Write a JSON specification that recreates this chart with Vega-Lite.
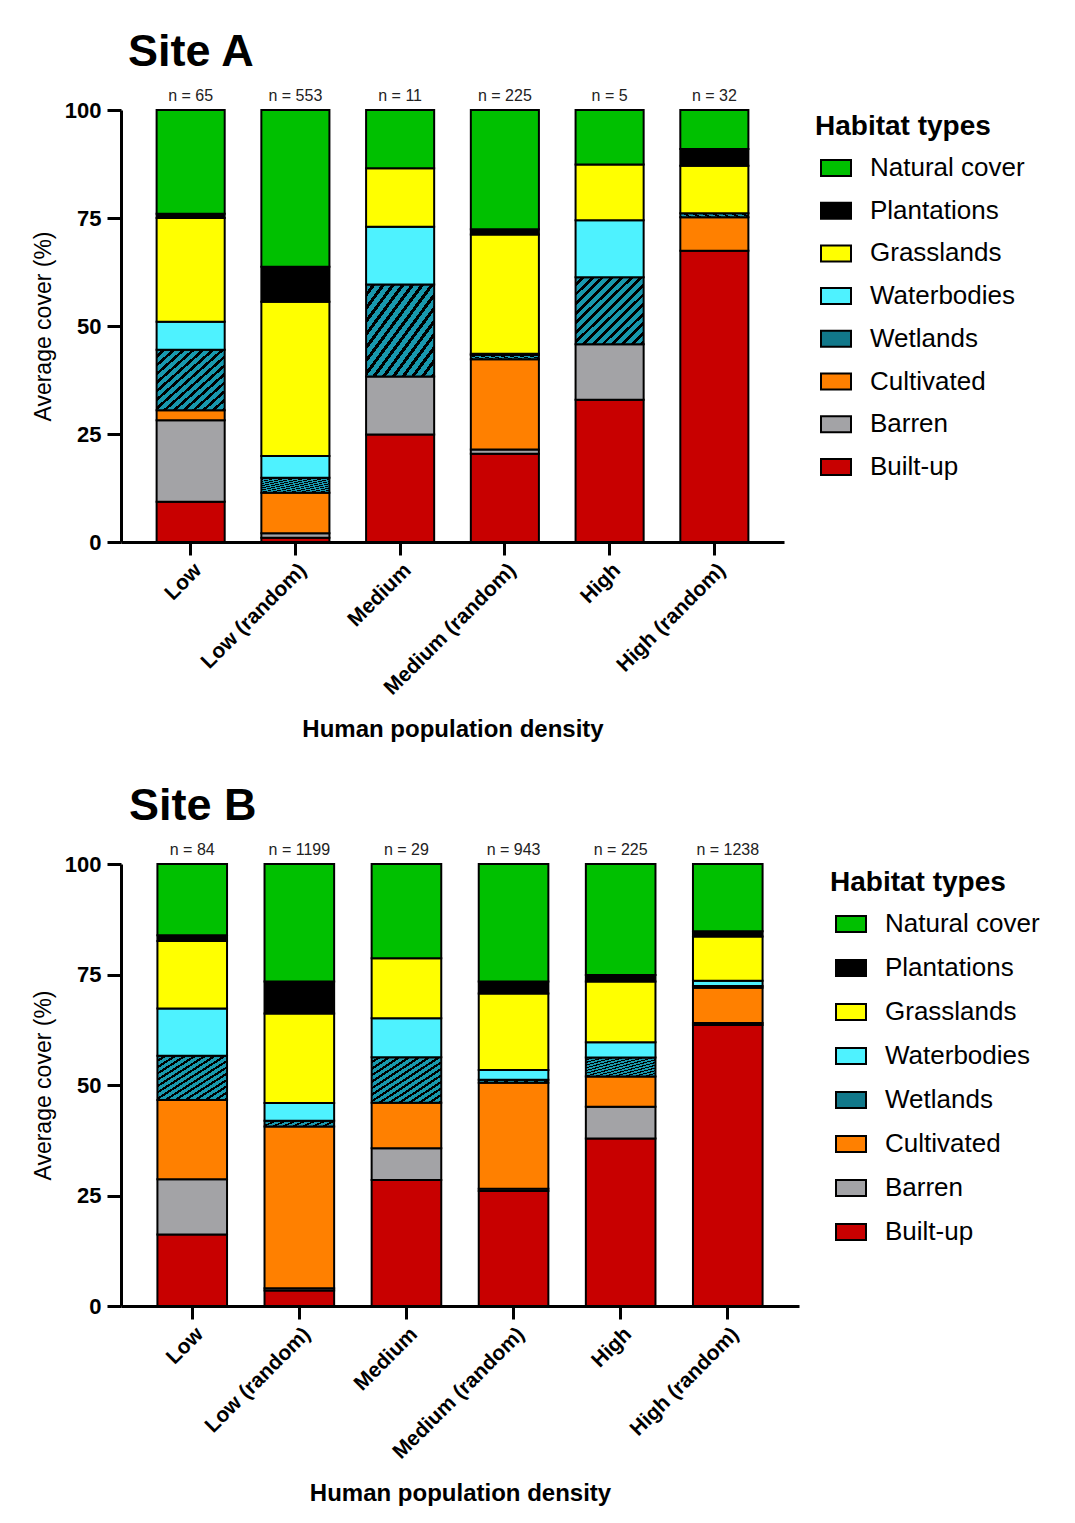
{
  "$schema": "https://vega.github.io/schema/vega-lite/v6.json",
  "background": "white",
  "padding": {"left": 32, "top": 30, "right": 0, "bottom": 0},
  "spacing": 42,
  "config": {
    "font": "Liberation Sans",
    "view": {"stroke": null},
    "axis": {"domainColor": "black", "domainWidth": 3, "tickColor": "black", "tickWidth": 3, "labelColor": "black", "titleColor": "black", "labelFontWeight": "bold", "titleFontWeight": "bold", "grid": false},
    "axisX": {"labelAngle": -45, "labelFontSize": 21, "titleFontSize": 24, "titlePadding": 19, "tickSize": 13, "labelPadding": 4},
    "axisY": {"labelFontSize": 22, "titleFontSize": 23, "titleFontWeight": "normal", "tickSize": 14, "labelPadding": 6, "titlePadding": 9},
    "legend": {"orient": "none", "padding": 0, "titleFontSize": 28, "titleFontWeight": "bold", "titleColor": "black", "labelFontSize": 26, "labelColor": "black", "symbolType": "M-1,-0.533H1V0.533H-1Z", "symbolSize": 900, "symbolStrokeColor": "black", "symbolStrokeWidth": 2, "symbolOpacity": 1, "symbolOffset": 5, "labelOffset": 18, "titlePadding": 11},
    "title": {"fontSize": 45, "fontWeight": "bold", "anchor": "start", "frame": "group", "color": "black"}
  },
  "datasets": {
    "cover": [
      {"site": "A", "density": "Low", "type": "Built-up", "k": 1, "cover": 9.3},
      {"site": "A", "density": "Low", "type": "Barren", "k": 2, "cover": 18.9},
      {"site": "A", "density": "Low", "type": "Cultivated", "k": 3, "cover": 2.3},
      {"site": "A", "density": "Low", "type": "Wetlands", "k": 4, "cover": 14.0},
      {"site": "A", "density": "Low", "type": "Waterbodies", "k": 5, "cover": 6.5},
      {"site": "A", "density": "Low", "type": "Grasslands", "k": 6, "cover": 24.0},
      {"site": "A", "density": "Low", "type": "Plantations", "k": 7, "cover": 1.0},
      {"site": "A", "density": "Low", "type": "Natural cover", "k": 8, "cover": 24.0},
      {"site": "A", "density": "Low (random)", "type": "Built-up", "k": 1, "cover": 1.0},
      {"site": "A", "density": "Low (random)", "type": "Barren", "k": 2, "cover": 1.0},
      {"site": "A", "density": "Low (random)", "type": "Cultivated", "k": 3, "cover": 9.4},
      {"site": "A", "density": "Low (random)", "type": "Wetlands", "k": 4, "cover": 3.5},
      {"site": "A", "density": "Low (random)", "type": "Waterbodies", "k": 5, "cover": 5.0},
      {"site": "A", "density": "Low (random)", "type": "Grasslands", "k": 6, "cover": 35.7},
      {"site": "A", "density": "Low (random)", "type": "Plantations", "k": 7, "cover": 8.1},
      {"site": "A", "density": "Low (random)", "type": "Natural cover", "k": 8, "cover": 36.3},
      {"site": "A", "density": "Medium", "type": "Built-up", "k": 1, "cover": 24.9},
      {"site": "A", "density": "Medium", "type": "Barren", "k": 2, "cover": 13.4},
      {"site": "A", "density": "Medium", "type": "Wetlands", "k": 4, "cover": 21.3},
      {"site": "A", "density": "Medium", "type": "Waterbodies", "k": 5, "cover": 13.4},
      {"site": "A", "density": "Medium", "type": "Grasslands", "k": 6, "cover": 13.5},
      {"site": "A", "density": "Medium", "type": "Natural cover", "k": 8, "cover": 13.5},
      {"site": "A", "density": "Medium (random)", "type": "Built-up", "k": 1, "cover": 20.4},
      {"site": "A", "density": "Medium (random)", "type": "Barren", "k": 2, "cover": 1.0},
      {"site": "A", "density": "Medium (random)", "type": "Cultivated", "k": 3, "cover": 20.9},
      {"site": "A", "density": "Medium (random)", "type": "Wetlands", "k": 4, "cover": 1.0},
      {"site": "A", "density": "Medium (random)", "type": "Waterbodies", "k": 5, "cover": 0.3},
      {"site": "A", "density": "Medium (random)", "type": "Grasslands", "k": 6, "cover": 27.6},
      {"site": "A", "density": "Medium (random)", "type": "Plantations", "k": 7, "cover": 1.2},
      {"site": "A", "density": "Medium (random)", "type": "Natural cover", "k": 8, "cover": 27.6},
      {"site": "A", "density": "High", "type": "Built-up", "k": 1, "cover": 32.9},
      {"site": "A", "density": "High", "type": "Barren", "k": 2, "cover": 12.9},
      {"site": "A", "density": "High", "type": "Wetlands", "k": 4, "cover": 15.5},
      {"site": "A", "density": "High", "type": "Waterbodies", "k": 5, "cover": 13.2},
      {"site": "A", "density": "High", "type": "Grasslands", "k": 6, "cover": 12.9},
      {"site": "A", "density": "High", "type": "Natural cover", "k": 8, "cover": 12.6},
      {"site": "A", "density": "High (random)", "type": "Built-up", "k": 1, "cover": 67.4},
      {"site": "A", "density": "High (random)", "type": "Cultivated", "k": 3, "cover": 7.8},
      {"site": "A", "density": "High (random)", "type": "Wetlands", "k": 4, "cover": 0.9},
      {"site": "A", "density": "High (random)", "type": "Grasslands", "k": 6, "cover": 11.0},
      {"site": "A", "density": "High (random)", "type": "Plantations", "k": 7, "cover": 3.9},
      {"site": "A", "density": "High (random)", "type": "Natural cover", "k": 8, "cover": 9.0},
      {"site": "B", "density": "Low", "type": "Built-up", "k": 1, "cover": 16.2},
      {"site": "B", "density": "Low", "type": "Barren", "k": 2, "cover": 12.5},
      {"site": "B", "density": "Low", "type": "Cultivated", "k": 3, "cover": 17.9},
      {"site": "B", "density": "Low", "type": "Wetlands", "k": 4, "cover": 10.0},
      {"site": "B", "density": "Low", "type": "Waterbodies", "k": 5, "cover": 10.7},
      {"site": "B", "density": "Low", "type": "Grasslands", "k": 6, "cover": 15.3},
      {"site": "B", "density": "Low", "type": "Plantations", "k": 7, "cover": 1.3},
      {"site": "B", "density": "Low", "type": "Natural cover", "k": 8, "cover": 16.1},
      {"site": "B", "density": "Low (random)", "type": "Built-up", "k": 1, "cover": 3.5},
      {"site": "B", "density": "Low (random)", "type": "Barren", "k": 2, "cover": 0.5},
      {"site": "B", "density": "Low (random)", "type": "Cultivated", "k": 3, "cover": 36.6},
      {"site": "B", "density": "Low (random)", "type": "Wetlands", "k": 4, "cover": 1.3},
      {"site": "B", "density": "Low (random)", "type": "Waterbodies", "k": 5, "cover": 4.0},
      {"site": "B", "density": "Low (random)", "type": "Grasslands", "k": 6, "cover": 20.3},
      {"site": "B", "density": "Low (random)", "type": "Plantations", "k": 7, "cover": 7.2},
      {"site": "B", "density": "Low (random)", "type": "Natural cover", "k": 8, "cover": 26.6},
      {"site": "B", "density": "Medium", "type": "Built-up", "k": 1, "cover": 28.5},
      {"site": "B", "density": "Medium", "type": "Barren", "k": 2, "cover": 7.2},
      {"site": "B", "density": "Medium", "type": "Cultivated", "k": 3, "cover": 10.3},
      {"site": "B", "density": "Medium", "type": "Wetlands", "k": 4, "cover": 10.3},
      {"site": "B", "density": "Medium", "type": "Waterbodies", "k": 5, "cover": 8.8},
      {"site": "B", "density": "Medium", "type": "Grasslands", "k": 6, "cover": 13.6},
      {"site": "B", "density": "Medium", "type": "Natural cover", "k": 8, "cover": 21.3},
      {"site": "B", "density": "Medium (random)", "type": "Built-up", "k": 1, "cover": 26.0},
      {"site": "B", "density": "Medium (random)", "type": "Barren", "k": 2, "cover": 0.5},
      {"site": "B", "density": "Medium (random)", "type": "Cultivated", "k": 3, "cover": 24.0},
      {"site": "B", "density": "Medium (random)", "type": "Wetlands", "k": 4, "cover": 0.7},
      {"site": "B", "density": "Medium (random)", "type": "Waterbodies", "k": 5, "cover": 2.2},
      {"site": "B", "density": "Medium (random)", "type": "Grasslands", "k": 6, "cover": 17.3},
      {"site": "B", "density": "Medium (random)", "type": "Plantations", "k": 7, "cover": 2.7},
      {"site": "B", "density": "Medium (random)", "type": "Natural cover", "k": 8, "cover": 26.6},
      {"site": "B", "density": "High", "type": "Built-up", "k": 1, "cover": 37.9},
      {"site": "B", "density": "High", "type": "Barren", "k": 2, "cover": 7.2},
      {"site": "B", "density": "High", "type": "Cultivated", "k": 3, "cover": 6.8},
      {"site": "B", "density": "High", "type": "Wetlands", "k": 4, "cover": 4.3},
      {"site": "B", "density": "High", "type": "Waterbodies", "k": 5, "cover": 3.5},
      {"site": "B", "density": "High", "type": "Grasslands", "k": 6, "cover": 13.7},
      {"site": "B", "density": "High", "type": "Plantations", "k": 7, "cover": 1.5},
      {"site": "B", "density": "High", "type": "Natural cover", "k": 8, "cover": 25.1},
      {"site": "B", "density": "High (random)", "type": "Built-up", "k": 1, "cover": 63.6},
      {"site": "B", "density": "High (random)", "type": "Barren", "k": 2, "cover": 0.4},
      {"site": "B", "density": "High (random)", "type": "Cultivated", "k": 3, "cover": 8.0},
      {"site": "B", "density": "High (random)", "type": "Wetlands", "k": 4, "cover": 0.4},
      {"site": "B", "density": "High (random)", "type": "Waterbodies", "k": 5, "cover": 1.2},
      {"site": "B", "density": "High (random)", "type": "Grasslands", "k": 6, "cover": 10.0},
      {"site": "B", "density": "High (random)", "type": "Plantations", "k": 7, "cover": 1.2},
      {"site": "B", "density": "High (random)", "type": "Natural cover", "k": 8, "cover": 15.2}
    ],
    "n": [
      {"site": "A", "density": "Low", "label": "n = 65"},
      {"site": "A", "density": "Low (random)", "label": "n = 553"},
      {"site": "A", "density": "Medium", "label": "n = 11"},
      {"site": "A", "density": "Medium (random)", "label": "n = 225"},
      {"site": "A", "density": "High", "label": "n = 5"},
      {"site": "A", "density": "High (random)", "label": "n = 32"},
      {"site": "B", "density": "Low", "label": "n = 84"},
      {"site": "B", "density": "Low (random)", "label": "n = 1199"},
      {"site": "B", "density": "Medium", "label": "n = 29"},
      {"site": "B", "density": "Medium (random)", "label": "n = 943"},
      {"site": "B", "density": "High", "label": "n = 225"},
      {"site": "B", "density": "High (random)", "label": "n = 1238"}
    ]
  },
  "resolve": {"legend": {"fill": "independent"}},
  "vconcat": [
    {
      "title": {"text": "Site A", "dx": 7, "offset": 13},
      "width": 663,
      "height": 432,
      "layer": [
        {
          "data": {"name": "cover"},
          "transform": [{"filter": "datum.site == 'A'"}],
          "mark": {"type": "bar", "stroke": "black", "strokeWidth": 2},
          "encoding": {
            "x": {"field": "density", "type": "nominal", "sort": ["Low", "Low (random)", "Medium", "Medium (random)", "High", "High (random)"], "scale": {"paddingInner": 0.35, "paddingOuter": 0.34}, "title": "Human population density"},
            "y": {"field": "cover", "type": "quantitative", "stack": "zero", "scale": {"domain": [0, 100]}, "axis": {"values": [0, 25, 50, 75, 100]}, "title": "Average cover (%)"},
            "fill": {
              "condition": {"test": "datum.type === 'Wetlands'", "value": {"gradient": "linear", "x1": 0, "y1": 0, "x2": 1, "y2": 1, "stops": [
                    {"offset": 0, "color": "#1898ae"}, {"offset": 0.0429, "color": "#1898ae"}, {"offset": 0.0429, "color": "#000000"}, {"offset": 0.0714, "color": "#000000"},
                    {"offset": 0.0714, "color": "#1898ae"}, {"offset": 0.1143, "color": "#1898ae"}, {"offset": 0.1143, "color": "#000000"}, {"offset": 0.1429, "color": "#000000"},
                    {"offset": 0.1429, "color": "#1898ae"}, {"offset": 0.1857, "color": "#1898ae"}, {"offset": 0.1857, "color": "#000000"}, {"offset": 0.2143, "color": "#000000"},
                    {"offset": 0.2143, "color": "#1898ae"}, {"offset": 0.2571, "color": "#1898ae"}, {"offset": 0.2571, "color": "#000000"}, {"offset": 0.2857, "color": "#000000"},
                    {"offset": 0.2857, "color": "#1898ae"}, {"offset": 0.3286, "color": "#1898ae"}, {"offset": 0.3286, "color": "#000000"}, {"offset": 0.3571, "color": "#000000"},
                    {"offset": 0.3571, "color": "#1898ae"}, {"offset": 0.4, "color": "#1898ae"}, {"offset": 0.4, "color": "#000000"}, {"offset": 0.4286, "color": "#000000"},
                    {"offset": 0.4286, "color": "#1898ae"}, {"offset": 0.4714, "color": "#1898ae"}, {"offset": 0.4714, "color": "#000000"}, {"offset": 0.5, "color": "#000000"},
                    {"offset": 0.5, "color": "#1898ae"}, {"offset": 0.5429, "color": "#1898ae"}, {"offset": 0.5429, "color": "#000000"}, {"offset": 0.5714, "color": "#000000"},
                    {"offset": 0.5714, "color": "#1898ae"}, {"offset": 0.6143, "color": "#1898ae"}, {"offset": 0.6143, "color": "#000000"}, {"offset": 0.6429, "color": "#000000"},
                    {"offset": 0.6429, "color": "#1898ae"}, {"offset": 0.6857, "color": "#1898ae"}, {"offset": 0.6857, "color": "#000000"}, {"offset": 0.7143, "color": "#000000"},
                    {"offset": 0.7143, "color": "#1898ae"}, {"offset": 0.7571, "color": "#1898ae"}, {"offset": 0.7571, "color": "#000000"}, {"offset": 0.7857, "color": "#000000"},
                    {"offset": 0.7857, "color": "#1898ae"}, {"offset": 0.8286, "color": "#1898ae"}, {"offset": 0.8286, "color": "#000000"}, {"offset": 0.8571, "color": "#000000"},
                    {"offset": 0.8571, "color": "#1898ae"}, {"offset": 0.9, "color": "#1898ae"}, {"offset": 0.9, "color": "#000000"}, {"offset": 0.9286, "color": "#000000"},
                    {"offset": 0.9286, "color": "#1898ae"}, {"offset": 0.9714, "color": "#1898ae"}, {"offset": 0.9714, "color": "#000000"}, {"offset": 1, "color": "#000000"}
                  ]}},
              "field": "type", "type": "nominal",
              "scale": {
                "domain": ["Natural cover", "Plantations", "Grasslands", "Waterbodies", "Wetlands", "Cultivated", "Barren", "Built-up"],
                "range": ["#00c000", "#000000", "#ffff00", "#4ef2ff", "#11788a", "#ff8000", "#a3a3a6", "#c80000"]
              },
              "legend": {"title": "Habitat types", "legendX": 694, "legendY": 3, "rowPadding": 13.7,
                "encode": {"symbols": {"update": {"stroke": {"value": "black"}, "strokeWidth": {"value": 2}}}}
              }
            },
            "order": {"field": "k", "type": "quantitative"}
          }
        },
        {
          "data": {"name": "n"},
          "transform": [{"filter": "datum.site == 'A'"}],
          "mark": {"type": "text", "baseline": "bottom", "dy": -6, "fontSize": 16, "color": "#222222"},
          "encoding": {
            "x": {"field": "density", "type": "nominal", "sort": ["Low", "Low (random)", "Medium", "Medium (random)", "High", "High (random)"], "title": "Human population density"},
            "y": {"datum": 100},
            "text": {"field": "label"}
          }
        }
      ]
    },
    {
      "title": {"text": "Site B", "dx": 8, "offset": 13},
      "width": 678,
      "height": 442,
      "layer": [
        {
          "data": {"name": "cover"},
          "transform": [{"filter": "datum.site == 'B'"}],
          "mark": {"type": "bar", "stroke": "black", "strokeWidth": 2},
          "encoding": {
            "x": {"field": "density", "type": "nominal", "sort": ["Low", "Low (random)", "Medium", "Medium (random)", "High", "High (random)"], "scale": {"paddingInner": 0.35, "paddingOuter": 0.34}, "title": "Human population density"},
            "y": {"field": "cover", "type": "quantitative", "stack": "zero", "scale": {"domain": [0, 100]}, "axis": {"values": [0, 25, 50, 75, 100]}, "title": "Average cover (%)"},
            "fill": {
              "condition": {"test": "datum.type === 'Wetlands'", "value": {"gradient": "linear", "x1": 0, "y1": 0, "x2": 1, "y2": 1, "stops": [
                    {"offset": 0, "color": "#1898ae"}, {"offset": 0.0429, "color": "#1898ae"}, {"offset": 0.0429, "color": "#000000"}, {"offset": 0.0714, "color": "#000000"},
                    {"offset": 0.0714, "color": "#1898ae"}, {"offset": 0.1143, "color": "#1898ae"}, {"offset": 0.1143, "color": "#000000"}, {"offset": 0.1429, "color": "#000000"},
                    {"offset": 0.1429, "color": "#1898ae"}, {"offset": 0.1857, "color": "#1898ae"}, {"offset": 0.1857, "color": "#000000"}, {"offset": 0.2143, "color": "#000000"},
                    {"offset": 0.2143, "color": "#1898ae"}, {"offset": 0.2571, "color": "#1898ae"}, {"offset": 0.2571, "color": "#000000"}, {"offset": 0.2857, "color": "#000000"},
                    {"offset": 0.2857, "color": "#1898ae"}, {"offset": 0.3286, "color": "#1898ae"}, {"offset": 0.3286, "color": "#000000"}, {"offset": 0.3571, "color": "#000000"},
                    {"offset": 0.3571, "color": "#1898ae"}, {"offset": 0.4, "color": "#1898ae"}, {"offset": 0.4, "color": "#000000"}, {"offset": 0.4286, "color": "#000000"},
                    {"offset": 0.4286, "color": "#1898ae"}, {"offset": 0.4714, "color": "#1898ae"}, {"offset": 0.4714, "color": "#000000"}, {"offset": 0.5, "color": "#000000"},
                    {"offset": 0.5, "color": "#1898ae"}, {"offset": 0.5429, "color": "#1898ae"}, {"offset": 0.5429, "color": "#000000"}, {"offset": 0.5714, "color": "#000000"},
                    {"offset": 0.5714, "color": "#1898ae"}, {"offset": 0.6143, "color": "#1898ae"}, {"offset": 0.6143, "color": "#000000"}, {"offset": 0.6429, "color": "#000000"},
                    {"offset": 0.6429, "color": "#1898ae"}, {"offset": 0.6857, "color": "#1898ae"}, {"offset": 0.6857, "color": "#000000"}, {"offset": 0.7143, "color": "#000000"},
                    {"offset": 0.7143, "color": "#1898ae"}, {"offset": 0.7571, "color": "#1898ae"}, {"offset": 0.7571, "color": "#000000"}, {"offset": 0.7857, "color": "#000000"},
                    {"offset": 0.7857, "color": "#1898ae"}, {"offset": 0.8286, "color": "#1898ae"}, {"offset": 0.8286, "color": "#000000"}, {"offset": 0.8571, "color": "#000000"},
                    {"offset": 0.8571, "color": "#1898ae"}, {"offset": 0.9, "color": "#1898ae"}, {"offset": 0.9, "color": "#000000"}, {"offset": 0.9286, "color": "#000000"},
                    {"offset": 0.9286, "color": "#1898ae"}, {"offset": 0.9714, "color": "#1898ae"}, {"offset": 0.9714, "color": "#000000"}, {"offset": 1, "color": "#000000"}
                  ]}},
              "field": "type", "type": "nominal",
              "legend": {"title": "Habitat types", "legendX": 709, "legendY": 5, "rowPadding": 15,
                "encode": {"symbols": {"update": {"stroke": {"value": "black"}, "strokeWidth": {"value": 2}}}}
              }
            },
            "order": {"field": "k", "type": "quantitative"}
          }
        },
        {
          "data": {"name": "n"},
          "transform": [{"filter": "datum.site == 'B'"}],
          "mark": {"type": "text", "baseline": "bottom", "dy": -6, "fontSize": 16, "color": "#222222"},
          "encoding": {
            "x": {"field": "density", "type": "nominal", "sort": ["Low", "Low (random)", "Medium", "Medium (random)", "High", "High (random)"], "title": "Human population density"},
            "y": {"datum": 100},
            "text": {"field": "label"}
          }
        }
      ]
    }
  ]
}
